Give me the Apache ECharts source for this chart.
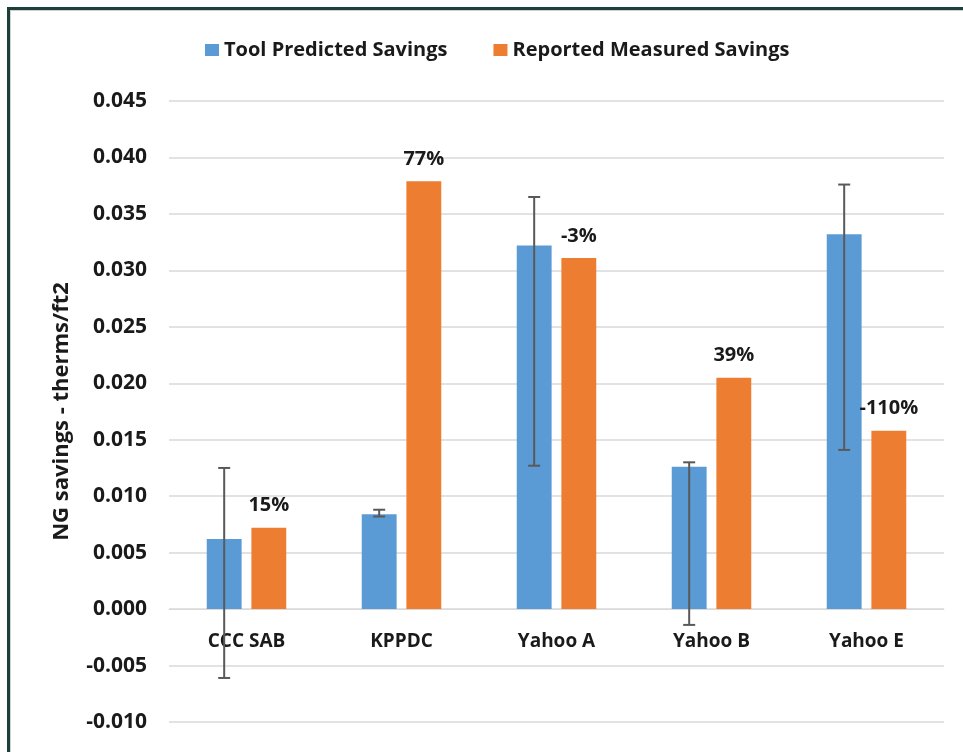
<!DOCTYPE html>
<html>
<head>
<meta charset="utf-8">
<script src="https://cdn.jsdelivr.net/npm/echarts@6/dist/echarts.min.js"></script>
<style>
  html, body { margin: 0; padding: 0; background: #fff; }
  #frame {
    position: absolute; left: 7px; top: 7px; width: 1000px; height: 800px;
    border: 3px solid #1d3f3a; box-shadow: inset 1px 1px 0 #d0d0d0;
  }
  #chart { position: absolute; left: 0; top: 0; width: 963px; height: 752px; }
</style>
</head>
<body>
<div id="frame"></div>
<div id="chart"></div>
<script>
// 数据
const categories = ["CCC SAB", "KPPDC", "Yahoo A", "Yahoo B", "Yahoo E"];
const predicted = [0.0062, 0.0084, 0.0322, 0.0126, 0.0332];
const measured = [0.0072, 0.0379, 0.0311, 0.0205, 0.0158];
const errLow = [-0.0061, 0.0082, 0.0127, -0.0014, 0.0141];
const errHigh = [0.0125, 0.0088, 0.0365, 0.0130, 0.0376];
const diffLabels = ["15%", "77%", "-3%", "39%", "-110%"];

const BAR_W = 0.225;   // 柱宽占类目宽比例
const BAR_GAP = 0.28;  // 柱间距占柱宽比例
const FONT = "'Open Sans', Lato, sans-serif";
const TXT = "#1a1a1a";

const chart = echarts.init(document.getElementById("chart"));

const option = {
  animation: false,
  color: ["#5b9bd5", "#ed7d31"],
  legend: {
    left: 200,
    top: 35,
    itemWidth: 14,
    itemHeight: 12,
    itemGap: 46,
    icon: "rect",
    textStyle: { fontFamily: FONT, fontWeight: "bold", fontSize: 20, color: TXT },
    data: ["Tool Predicted Savings", "Reported Measured Savings"]
  },
  grid: { left: 169, right: 19, top: 101, bottom: 30, outerBoundsMode: "none" },
  xAxis: {
    type: "category",
    data: categories,
    // 标签放在零线下方
    offset: -113,
    axisLine: { onZero: false, lineStyle: { color: "#d9d9d9", width: 1 } },
    axisTick: { show: false },
    axisLabel: {
      margin: 23,
      fontFamily: FONT, fontWeight: "bold", fontSize: 19, color: TXT
    }
  },
  yAxis: {
    type: "value",
    min: -0.01,
    max: 0.045,
    interval: 0.005,
    name: "NG savings - therms/ft2",
    nameLocation: "middle",
    nameGap: 96,
    nameRotate: 90,
    nameTextStyle: { fontFamily: FONT, fontWeight: "bold", fontSize: 22, color: TXT },
    axisLine: { show: false },
    axisTick: { show: false },
    splitLine: { lineStyle: { color: "#d9d9d9", width: 1.5 } },
    axisLabel: {
      margin: 22,
      fontFamily: FONT, fontWeight: "bold", fontSize: 21, color: TXT,
      formatter: v => (Math.abs(v) < 1e-9 ? 0 : v).toFixed(3)
    }
  },
  series: [
    {
      name: "Tool Predicted Savings",
      type: "bar",
      data: predicted,
      barWidth: (BAR_W * 100) + "%",
      barGap: (BAR_GAP * 100) + "%"
    },
    {
      name: "Reported Measured Savings",
      type: "bar",
      data: measured,
      barWidth: (BAR_W * 100) + "%",
      label: {
        show: true,
        position: "top",
        distance: 12,
        fontFamily: FONT, fontWeight: "bold", fontSize: 20, color: TXT,
        formatter: p => diffLabels[p.dataIndex]
      }
    },
    {
      // 误差线
      name: "err",
      type: "custom",
      z: 10,
      data: categories.map((c, i) => [i, errLow[i], errHigh[i]]),
      encode: { x: 0, y: [1, 2] },
      renderItem: (params, api) => {
        const i = api.value(0);
        const lo = api.coord([i, api.value(1)]);
        const hi = api.coord([i, api.value(2)]);
        const band = api.size([1, 0])[0];
        const w = band * BAR_W;
        const x = lo[0] - (w + w * BAR_GAP) / 2;
        const cap = 6;
        const style = { stroke: "#595959", lineWidth: 2 };
        return {
          type: "group",
          children: [
            { type: "line", shape: { x1: x, y1: lo[1], x2: x, y2: hi[1] }, style },
            { type: "line", shape: { x1: x - cap, y1: lo[1], x2: x + cap, y2: lo[1] }, style },
            { type: "line", shape: { x1: x - cap, y1: hi[1], x2: x + cap, y2: hi[1] }, style }
          ]
        };
      }
    }
  ]
};

chart.setOption(option);
</script>
</body>
</html>
